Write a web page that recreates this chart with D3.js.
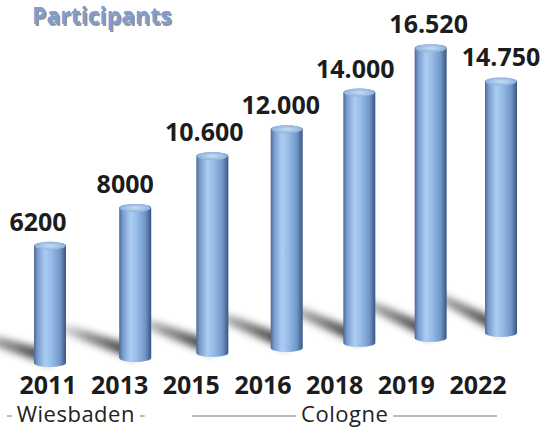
<!DOCTYPE html>
<html>
<head>
<meta charset="utf-8">
<script src="https://cdn.jsdelivr.net/npm/d3@7"></script>
<style>
  body { margin: 0; background: #fff; }
  svg { display: block; }
  .po-value, .po-year { font-family: 'Open Sans', sans-serif; font-weight: 700; font-size: 25px; fill: #1c1c1c; }
  .po-city { font-family: 'Open Sans', sans-serif; font-size: 22px; letter-spacing: 0.5px; fill: #222; }
</style>
</head>
<body>
<svg id="participants" width="544" height="430"></svg>
<script>
const years = ['2011', '2013', '2015', '2016', '2018', '2019', '2022'];
const participants = [6200, 8000, 10600, 12000, 14000, 16520, 14750];
const valueLabels = ['6200', '8000', '10.600', '12.000', '14.000', '16.520', '14.750'];
const cities = ['Wiesbaden', 'Cologne'];
const cityFirstYear = [0, 2];
const cityLastYear = [1, 6];

class CylinderChart {

  constructor(identifier, title) {
    this.identifier = identifier;
    this.title = title;
  }

  setup() {
    this.svg = d3.select('#' + this.identifier);
    this.defs = this.svg.append('defs');

    const body = this.defs.append('linearGradient').attr('id', 'cyl-body')
      .attr('x1', 0).attr('x2', 1).attr('y1', 0).attr('y2', 0);
    [['0%', '#4a6796'], ['10%', '#7698ca'], ['35%', '#abcdf3'], ['55%', '#95bce8'],
     ['82%', '#7095c6'], ['100%', '#3a5580']].forEach(s => {
      body.append('stop').attr('offset', s[0]).attr('stop-color', s[1]);
    });

    const cap = this.defs.append('radialGradient').attr('id', 'cyl-cap');
    cap.append('stop').attr('offset', '0%').attr('stop-color', '#c6def6');
    cap.append('stop').attr('offset', '100%').attr('stop-color', '#8fb2dc');

    this.defs.append('filter').attr('id', 'blur')
      .attr('filterUnits', 'userSpaceOnUse')
      .attr('x', 0).attr('y', 0).attr('width', 544).attr('height', 430)
      .append('feGaussianBlur').attr('stdDeviation', 3.5);

    this.defs.append('filter').attr('id', 'soft')
      .append('feGaussianBlur').attr('stdDeviation', 0.6);

    this.shadowG = this.svg.append('g').attr('filter', 'url(#blur)');
    this.barG = this.svg.append('g');
    this.labelG = this.svg.append('g');
  }

  render() {
    const n = years.length;
    const idx = d3.range(n);

    // perspective: bars shift right, baseline rises and heights shrink going back
    const x = d3.scalePow().exponent(0.93).domain([0, n - 1]).range([50, 501]);
    const base = d3.scaleLinear().domain([0, n - 1]).range([367, 337]);
    const depth = d3.scaleLinear().domain([0, n - 1]).range([1, 0.871]);
    const h = d3.scaleLinear().domain([0, d3.max(participants)]).range([0, 333.7]);
    const labelShift = d3.scaleLinear().domain([0, n - 1]).range([-12, 0]);
    const shadowRise = d3.scaleLinear().domain([0, n - 1]).range([26, 42]);
    const xYear = d3.scaleLinear().domain([0, n - 1]).range([48, 478]);

    const rx = 16;
    const ry = 4;
    const reach = 70;
    const top = i => base(i) - h(participants[i]) * depth(i);

    // title
    this.svg.append('text')
      .attr('x', 33.5).attr('y', 25.5)
      .style('font-family', "'Open Sans', sans-serif").style('font-weight', 700)
      .style('font-size', '23px').style('fill', '#3b3f48').style('opacity', 0.55)
      .text(this.title);
    this.svg.append('text')
      .attr('x', 32).attr('y', 24)
      .style('font-family', "'Open Sans', sans-serif").style('font-weight', 700)
      .style('font-size', '23px').style('fill', '#7d9dd3')
      .text(this.title);

    // cast shadows, one fading gradient per bar, starting at the bar's left edge
    idx.forEach(i => {
      const g = this.defs.append('linearGradient').attr('id', 'sh' + i)
        .attr('gradientUnits', 'userSpaceOnUse')
        .attr('x1', x(i) - rx).attr('x2', x(i) - rx - reach)
        .attr('y1', 0).attr('y2', 0);
      g.append('stop').attr('offset', '0%').attr('stop-color', '#333').attr('stop-opacity', 0.85);
      g.append('stop').attr('offset', '50%').attr('stop-color', '#4a4a4a').attr('stop-opacity', 0.55);
      g.append('stop').attr('offset', '100%').attr('stop-color', '#777').attr('stop-opacity', 0);
    });

    this.shadowG.selectAll('path').data(idx).enter()
      .append('path')
      .attr('d', i => {
        const x0 = x(i), x1 = x(i) - rx - reach;
        const b = base(i) - 2, r = shadowRise(i);
        return `M${x0},${b} L${x0},${b - 14} L${x1},${b - 12 - r} L${x1},${b - 3 - r} Z`;
      })
      .attr('fill', i => `url(#sh${i})`);

    // cylinders
    const bars = this.barG.selectAll('g.bar').data(idx).enter()
      .append('g').attr('class', 'bar').attr('filter', 'url(#soft)');

    bars.append('path')
      .attr('d', i => {
        const l = x(i) - rx, r = x(i) + rx;
        const t = top(i) + ry, b = base(i) - ry;
        return `M${l},${t} L${l},${b} A${rx},${ry} 0 0 0 ${r},${b} L${r},${t} A${rx},${ry} 0 0 0 ${l},${t} Z`;
      })
      .attr('fill', 'url(#cyl-body)');

    bars.append('ellipse')
      .attr('cx', i => x(i))
      .attr('cy', i => top(i) + ry)
      .attr('rx', rx - 0.5)
      .attr('ry', ry)
      .attr('fill', 'url(#cyl-cap)');

    // value labels
    this.labelG.selectAll('text.po-value').data(idx).enter()
      .append('text')
      .attr('class', 'po-value')
      .attr('x', i => x(i) + labelShift(i))
      .attr('y', i => top(i) - 11)
      .attr('text-anchor', 'middle')
      .text(i => valueLabels[i]);

    // year labels
    this.labelG.selectAll('text.po-year').data(idx).enter()
      .append('text')
      .attr('class', 'po-year')
      .attr('x', i => xYear(i))
      .attr('y', 394)
      .attr('text-anchor', 'middle')
      .text(i => years[i]);

    // city groups
    const spanLeft = c => c === 0 ? xYear(cityFirstYear[c]) - 41 : xYear(cityFirstYear[c]) + 1;
    const spanRight = c => c === 0 ? xYear(cityLastYear[c]) + 25 : xYear(cityLastYear[c]) + 19;

    cities.forEach((city, c) => {
      const l = spanLeft(c), r = spanRight(c);
      const mid = (l + r) / 2;
      const label = this.labelG.append('text')
        .attr('class', 'po-city')
        .attr('x', mid).attr('y', 422)
        .attr('text-anchor', 'middle')
        .text(city);
      const w = label.node().getComputedTextLength();
      [[l, mid - w / 2 - 5], [mid + w / 2 + 5, r]].forEach(seg => {
        this.labelG.append('line')
          .attr('x1', seg[0]).attr('x2', seg[1])
          .attr('y1', 416).attr('y2', 416)
          .attr('stroke', '#777').attr('stroke-width', 1);
      });
    });
  }
}

const chart = new CylinderChart('participants', 'Participants');
chart.setup();
chart.render();
</script>
</body>
</html>
